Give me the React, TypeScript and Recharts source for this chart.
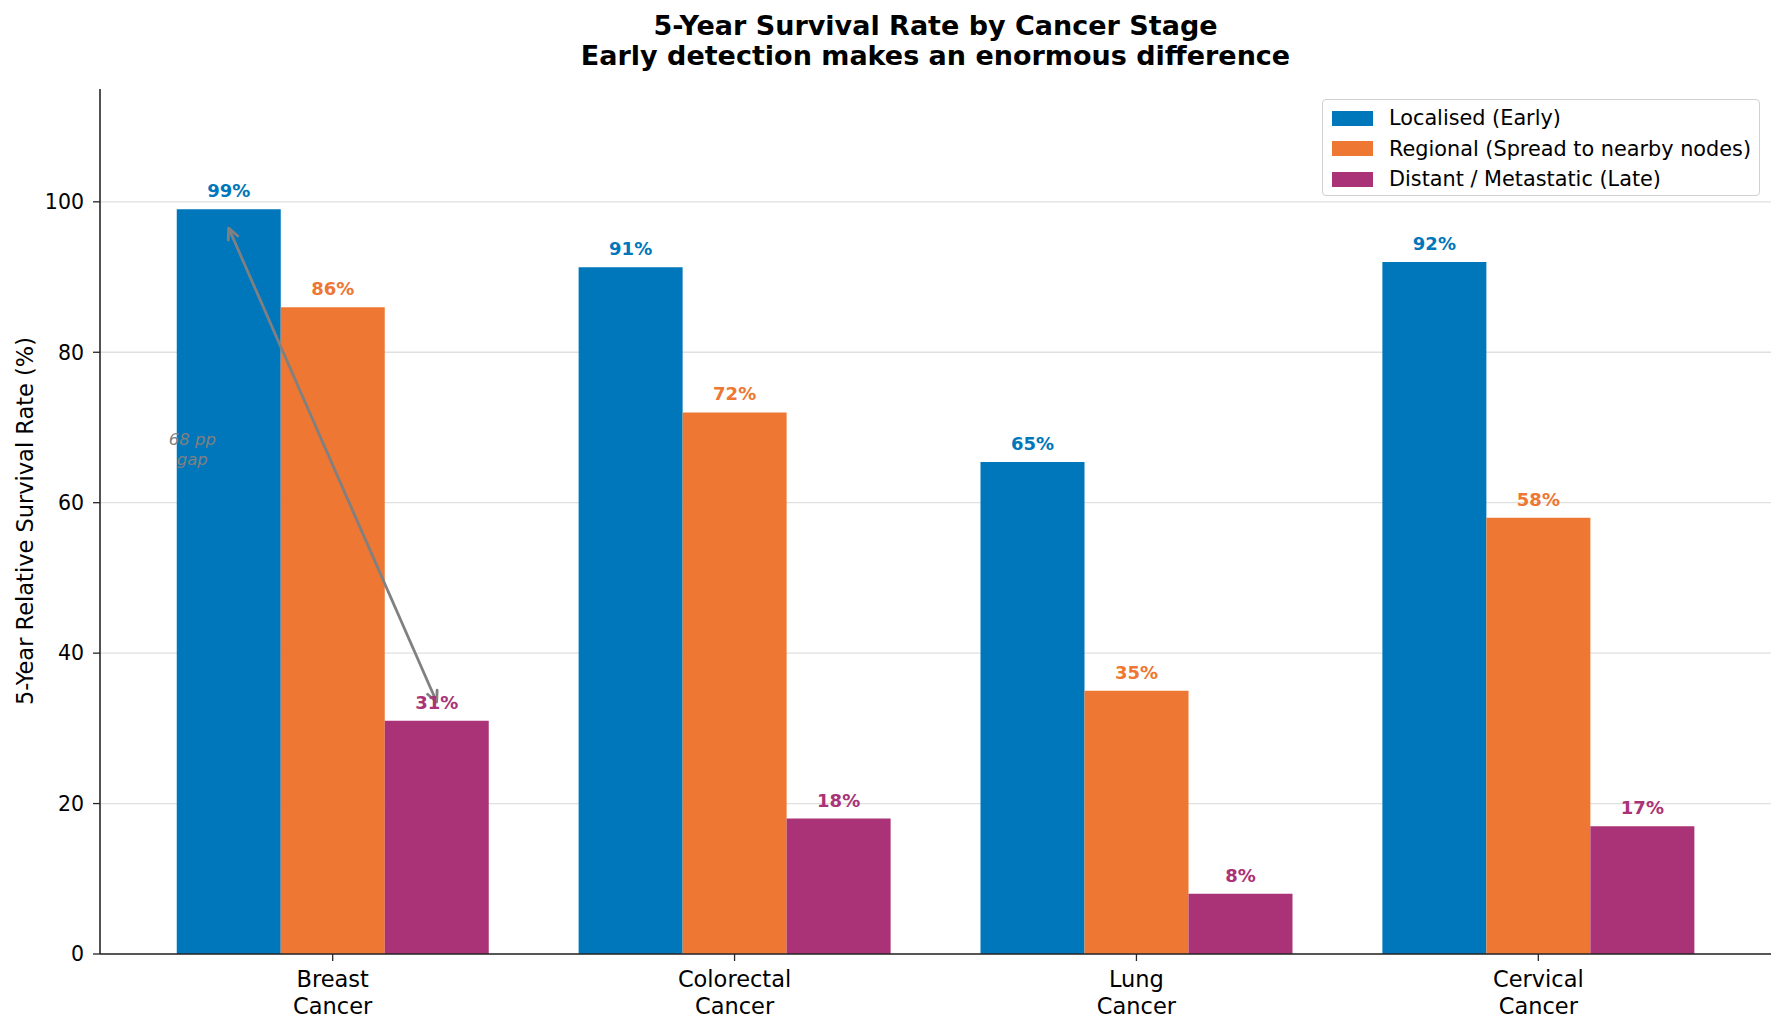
import React from "react";
import {
  BarChart,
  Bar,
  XAxis,
  YAxis,
  CartesianGrid,
  LabelList,
  ReferenceLine,
  ReferenceDot,
} from "recharts";

const categories = ["Breast\nCancer", "Colorectal\nCancer", "Lung\nCancer", "Cervical\nCancer"];
const localised = [99, 91.3, 65.4, 92];
const regional = [86, 72, 35, 58];
const distant = [31, 18, 8, 17];
const yTicks = [0, 20, 40, 60, 80, 100];
const yMax = 115;

const series = [
  { key: "localised", name: "Localised (Early)", color: "#0077BB" },
  { key: "regional", name: "Regional (Spread to nearby nodes)", color: "#EE7733" },
  { key: "distant", name: "Distant / Metastatic (Late)", color: "#AA3377" },
];

const rows = categories.map((cat, i) => ({
  cat,
  localised: localised[i],
  regional: regional[i],
  distant: distant[i],
}));

const BAR = 104;

// breast cancer gap annotation
const gapPp = Math.round(localised[0] - distant[0]);
const arrowTopY = 96.5;
const arrowBottomY = 33.5;
const gapTextY = 67;

const FONT = "'DejaVu Sans', 'Liberation Sans', sans-serif";
const AXIS = "#262626";
const ARROW = "#808080";

const CategoryTick = (props: any) => {
  const { x, y, payload } = props;
  const lines = String(payload.value).split("\n");
  return (
    <text x={x} y={y} textAnchor="middle" fill="#000" fontSize={22.5}>
      {lines.map((l, i) => (
        <tspan key={i} x={x} dy={i === 0 ? 24 : 26.5}>
          {l}
        </tspan>
      ))}
    </text>
  );
};

const head = (x: number, y: number, ang: number) => {
  const len = 12;
  const spread = 0.45;
  const a1 = ang + spread;
  const a2 = ang - spread;
  return `M${x + len * Math.cos(a1)},${y + len * Math.sin(a1)} L${x},${y} L${x + len * Math.cos(a2)},${y + len * Math.sin(a2)}`;
};

// segment is anchored on the Breast group centre; ends shifted to the outer bar centres
const DoubleArrow = (p: any) => {
  const x1 = p.x1 - BAR;
  const x2 = p.x2 + BAR;
  const { y1, y2 } = p;
  const ang = Math.atan2(y2 - y1, x2 - x1);
  return (
    <g>
      <line x1={x1} y1={y1} x2={x2} y2={y2} stroke={ARROW} strokeWidth={2.8} />
      <path d={head(x1, y1, ang)} stroke={ARROW} strokeWidth={2.8} fill="none" strokeLinecap="round" strokeLinejoin="round" />
      <path d={head(x2, y2, ang + Math.PI)} stroke={ARROW} strokeWidth={2.8} fill="none" strokeLinecap="round" strokeLinejoin="round" />
    </g>
  );
};

const GapText = (p: any) => {
  const cx = p.cx - BAR * 1.35;
  const { cy } = p;
  return (
    <text x={cx} y={cy} textAnchor="middle" fill={ARROW} fontSize={16.5} fontStyle="italic">
      <tspan x={cx} dy={-5}>{`${gapPp} pp`}</tspan>
      <tspan x={cx} dy={20}>gap</tspan>
    </text>
  );
};

const gridRows = (props: any) => {
  const o = props.offset;
  return yTicks.map((t) => o.top + o.height * (1 - t / yMax));
};

export default function App() {
  return (
    <div style={{ position: "relative", width: 1785, height: 1033, fontFamily: FONT, background: "#fff" }}>
      <style>{"body{margin:0}"}</style>
      <div
        style={{
          position: "absolute",
          left: 100,
          width: 1671,
          top: 11,
          textAlign: "center",
          fontWeight: "bold",
          fontSize: 27,
          lineHeight: "30px",
          color: "#000",
        }}
      >
        <div>5-Year Survival Rate by Cancer Stage</div>
        <div>Early detection makes an enormous difference</div>
      </div>
      <div
        style={{
          position: "absolute",
          left: 25,
          top: 521,
          transform: "translate(-50%, -50%) rotate(-90deg)",
          whiteSpace: "nowrap",
          fontSize: 22.5,
          color: "#000",
        }}
      >
        5-Year Relative Survival Rate (%)
      </div>

      <BarChart
        width={1785}
        height={1033}
        data={rows}
        margin={{ top: 89, right: 14, left: 0, bottom: 0 }}
        barGap={0}
        barSize={BAR}
      >
        <CartesianGrid
          vertical={false}
          stroke="#e0e0e0"
          strokeWidth={1.3}
          horizontalCoordinatesGenerator={gridRows}
        />
        <XAxis
          dataKey="cat"
          height={79}
          padding={{ left: 31.75, right: 31.75 }}
          tick={<CategoryTick />}
          tickSize={7}
          tickMargin={2}
          axisLine={{ stroke: AXIS, strokeWidth: 1.6 }}
          tickLine={{ stroke: AXIS, strokeWidth: 1.3 }}
          interval={0}
        />
        <YAxis
          type="number"
          width={100}
          domain={[0, yMax]}
          ticks={yTicks}
          allowDataOverflow
          tickSize={7}
          tickMargin={9}
          tick={{ fill: "#000", fontSize: 20.5 }}
          axisLine={{ stroke: AXIS, strokeWidth: 1.6 }}
          tickLine={{ stroke: AXIS, strokeWidth: 1.3 }}
        />
        {series.map((s) => (
          <Bar key={s.key} dataKey={s.key} name={s.name} fill={s.color} isAnimationActive={false}>
            <LabelList
              dataKey={s.key}
              position="top"
              offset={12}
              formatter={(v: any) => `${Math.round(Number(v))}%`}
              fill={s.color}
              fontSize={18}
              fontWeight="bold"
            />
          </Bar>
        ))}
        <ReferenceLine
          segment={[
            { x: categories[0], y: arrowTopY },
            { x: categories[0], y: arrowBottomY },
          ]}
          ifOverflow="visible"
          shape={(p: any) => <DoubleArrow {...p} />}
        />
        <ReferenceDot
          x={categories[0]}
          y={gapTextY}
          r={0}
          ifOverflow="visible"
          shape={(p: any) => <GapText {...p} />}
        />
      </BarChart>

      <div
        style={{
          position: "absolute",
          left: 1322,
          top: 99,
          width: 436,
          height: 95,
          border: "1.5px solid #d0d0d0",
          borderRadius: 4,
          background: "rgba(255,255,255,0.8)",
          fontSize: 20.8,
          color: "#000",
        }}
      >
        {series.map((s, i) => (
          <div
            key={s.key}
            style={{
              position: "absolute",
              left: 9,
              top: 3 + i * 30.5,
              height: 30,
              display: "flex",
              alignItems: "center",
              whiteSpace: "nowrap",
            }}
          >
            <span style={{ display: "inline-block", width: 41, height: 15, background: s.color, marginRight: 16 }} />
            <span>{s.name}</span>
          </div>
        ))}
      </div>
    </div>
  );
}
